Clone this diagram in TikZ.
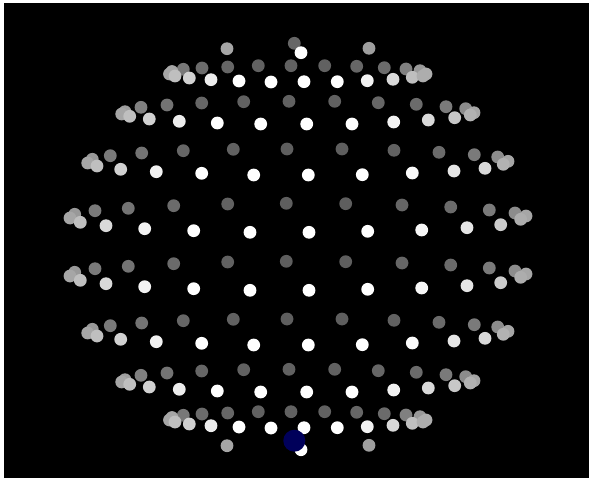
\documentclass[tikz,border=0pt]{standalone}
\usepackage{tikz}
\definecolor{probe}{RGB}{0,0,90}
\tikzset{
  spot/.style={circle, fill=white!#1!black, draw=none, inner sep=0pt, minimum size=9.6pt}
}
% one row of spots: x / y / brightness, moved down by #1
\newcommand{\spotrow}[2]{
  \foreach \px/\py/\lum in {#2} {
    \node[spot=\lum] at (\px, \py+#1) {};
  }
}
\begin{document}
\begin{tikzpicture}[x=0.75pt, y=-0.75pt]
\useasboundingbox (0,0) rectangle (589,478);
\fill[black] (4,3) rectangle (589,478);

% ── Poles ─────────────
\foreach \shift in {0,397} {
  \spotrow{\shift}{227/48.7/65, 369/48.3/62, 294.3/43.3/40, 301/52.7/100}
}

% ── Upper and lower row of each latitude ─────────────
\foreach \shift in {0,346} {
  \spotrow{\shift}{183.3/69.3/47, 202/68/42, 227.7/67/40, 258.3/65.7/38, 291/65.7/38,
    324.7/65.7/38, 356.7/66.3/40, 384.3/67.7/42, 406/69/50, 420/70.7/60,
    172/71.5/65, 169.5/74/65, 175/76/75, 189.3/78/82, 211/79.7/93, 239/81/100, 271/82/100,
    304/81.7/100, 337.3/81.7/100, 367.3/80.7/95, 393/79.3/85, 412.3/77.3/75,
    426/74/68, 423/76/68}
}
\foreach \shift in {0,268} {
  \spotrow{\shift}{141/107.3/50, 167/105/45, 201.7/103/40, 243.7/101.7/38, 289/101.3/38,
    334.7/101.3/38, 378.3/102.7/40, 416.3/104.3/42, 446/106.7/48, 465.7/108.7/55,
    125/111.7/62, 121.7/114/65, 129.7/116.3/75, 149.3/119/82, 179.3/121.3/93,
    217.3/123/100, 260.7/124/100, 306.7/124/100, 352/124/100, 393.7/122/95,
    428.3/120/85, 454.7/117.7/78, 474/112.7/65, 470.3/115/70}
}
\foreach \shift in {0,170} {
  \spotrow{\shift}{110.3/155.7/48, 141.7/153/45, 183.3/150.7/40, 233.3/149.3/38, 287/149/37,
    342/149/37, 394/150.3/38, 439/152.3/42, 474.3/154.7/48, 497.7/157/55,
    92.3/159.3/60, 87.7/163/65, 97/166/75, 120.7/169.3/82, 156.3/171.7/95,
    201.7/173.3/100, 253.7/175/100, 308.3/175/100, 362.3/174.7/100, 412.3/173/98,
    454/171/90, 485/168.3/85, 508/161.3/65, 503.3/164.3/70}
}
\foreach \shift in {0,58} {
  \spotrow{\shift}{95/210.7/48, 128.3/208.3/45, 173.7/205.7/42, 227.7/204/38, 286.3/203.3/37,
    345.7/203.7/37, 402/205/40, 450.7/207/42, 489.3/210/48, 515/213/55,
    74.7/214.3/60, 70/218/65, 80.3/222.3/75, 106/225.7/85, 144.7/228.7/95,
    193.7/230.7/100, 250/232.3/100, 309/232.3/100, 367.7/231.3/100, 421.7/230/97,
    467/227.7/90, 500.7/224.7/80, 526/216/65, 520.7/219.3/68}
}

% ── Probe ─────────────
\node[circle, fill=probe, inner sep=0pt, minimum size=16.5pt] (probe) at (294.3,440.7) {};
\end{tikzpicture}
\end{document}
